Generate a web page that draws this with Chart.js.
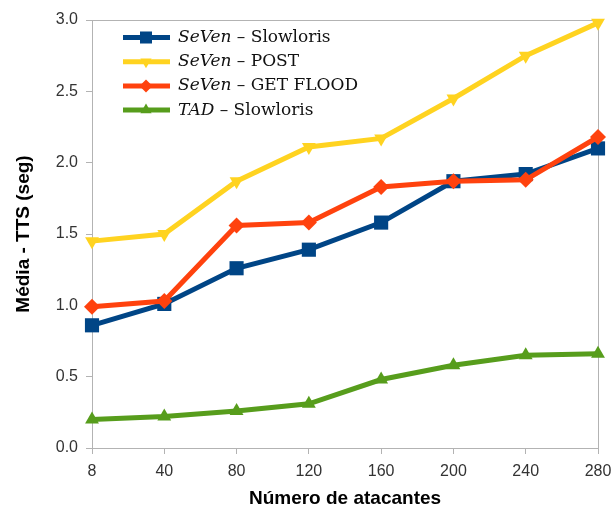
<!DOCTYPE html>
<html>
<head>
<meta charset="utf-8">
<script src="https://cdn.jsdelivr.net/npm/chart.js@4/dist/chart.umd.min.js"></script>
<style>
  html, body { margin: 0; padding: 0; background: #fff; }
  #wrap { width: 613px; height: 516px; position: relative; }
</style>
</head>
<body>
<div id="wrap"><canvas id="c"></canvas></div>
<script>
const attackers = ["8", "40", "80", "120", "160", "200", "240", "280"];

const sevenSlowloris = [0.86, 1.01, 1.26, 1.39, 1.58, 1.87, 1.92, 2.10];
const sevenPost      = [1.45, 1.50, 1.87, 2.11, 2.17, 2.45, 2.75, 2.98];
const sevenGetFlood  = [0.99, 1.03, 1.56, 1.58, 1.83, 1.87, 1.88, 2.18];
const tadSlowloris   = [0.20, 0.22, 0.26, 0.31, 0.48, 0.58, 0.65, 0.66];

const legendItems = [
    { italic: "SeVen", rest: " \u2013 Slowloris",  color: "#004586", style: "rect",     rot: 0,   r: 8.5 },
    { italic: "SeVen", rest: " \u2013 POST",       color: "#ffd320", style: "triangle", rot: 180, r: 6.5 },
    { italic: "SeVen", rest: " \u2013 GET FLOOD",  color: "#ff420e", style: "rectRot",  rot: 0,   r: 6.5 },
    { italic: "TAD",   rest: " \u2013 Slowloris",  color: "#579d1c", style: "triangle", rot: 0,   r: 6.5 },
];

function ds(label, data, color, style, rot, radius, order) {
    return {
        label, data,
        borderColor: color, backgroundColor: color,
        borderWidth: 5, tension: 0,
        pointStyle: style, pointRotation: rot,
        pointRadius: radius, pointBorderWidth: 0,
        clip: false, order,
    };
}

// frame around plot + custom legend with mixed italic text
const framePlugin = {
    id: "frame",
    beforeDatasetsDraw(chart) {
        const { ctx, chartArea: a } = chart;
        ctx.save();
        ctx.strokeStyle = "#b3b3b3";
        ctx.lineWidth = 1;
        ctx.beginPath();
        ctx.moveTo(a.left, a.top + 0.5);
        ctx.lineTo(a.right + 0.5, a.top + 0.5);
        ctx.lineTo(a.right + 0.5, a.bottom);
        ctx.stroke();
        ctx.restore();
    },
    afterDraw(chart) {
        const ctx = chart.ctx;
        ctx.save();
        legendItems.forEach((it, i) => {
            const y = 37.5 + i * 24.2;
            ctx.strokeStyle = it.color;
            ctx.lineWidth = 5;
            ctx.beginPath();
            ctx.moveTo(123, y);
            ctx.lineTo(170, y);
            ctx.stroke();
            ctx.fillStyle = it.color;
            Chart.helpers.drawPoint(ctx, { pointStyle: it.style, radius: it.r, rotation: it.rot, borderWidth: 0 }, 146, y);
            ctx.fillStyle = "#111";
            ctx.textBaseline = "middle";
            ctx.font = "italic 17px 'DejaVu Serif', serif";
            ctx.fillText(it.italic, 178, y);
            const w = ctx.measureText(it.italic).width;
            ctx.font = "17px 'DejaVu Serif', serif";
            ctx.fillText(it.rest, 178 + w, y);
        });
        ctx.restore();
    }
};

const tickFont = { family: "'Liberation Sans', Arial", size: 16 };
const titleFont = { family: "'Liberation Sans', Arial", size: 19, weight: "bold" };

new Chart(document.getElementById("c"), {
    type: "line",
    data: {
        labels: attackers,
        datasets: [
            ds("SeVen - Slowloris", sevenSlowloris, "#004586", "rect", 0, 10, 2),
            ds("SeVen - POST", sevenPost, "#ffd320", "triangle", 180, 8, 1),
            ds("SeVen - GET FLOOD", sevenGetFlood, "#ff420e", "rectRot", 0, 8, 0),
            ds("TAD - Slowloris", tadSlowloris, "#579d1c", "triangle", 0, 8, 3),
        ],
    },
    options: {
        responsive: true,
        maintainAspectRatio: false,
        animation: false,
        layout: { padding: { top: 20, right: 15, left: 0, bottom: 0 } },
        plugins: { legend: { display: false }, tooltip: { enabled: false } },
        scales: {
            x: {
                offset: false,
                afterFit: s => { s.height = 68; s.paddingLeft = 0; s.paddingRight = 0; },
                grid: { drawOnChartArea: false, tickLength: 6, color: "#b3b3b3" },
                border: { color: "#b3b3b3" },
                ticks: { color: "#333", font: tickFont, maxRotation: 0, padding: 8 },
                title: { display: true, text: "Número de atacantes", color: "#000",
                         font: titleFont, padding: { top: 4, bottom: 6 } },
            },
            y: {
                min: 0, max: 3,
                afterFit: s => { s.width = 92; },
                grid: { drawOnChartArea: false, tickLength: 6, color: "#b3b3b3" },
                border: { color: "#b3b3b3" },
                ticks: { stepSize: 0.5, color: "#333", font: tickFont,
                         callback: v => v.toFixed(1), padding: 8 },
                title: { display: true, text: "Média - TTS (seg)", color: "#000",
                         font: titleFont, padding: { top: 12, bottom: 0 } },
            },
        },
    },
    plugins: [framePlugin],
});
</script>
</body>
</html>
